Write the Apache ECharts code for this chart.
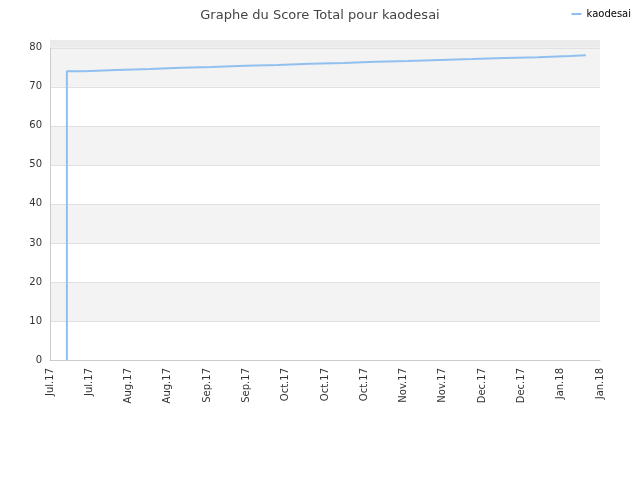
<!DOCTYPE html><html><head><meta charset="utf-8"><script src="https://cdn.jsdelivr.net/npm/echarts@6/dist/echarts.min.js"></script></head><body style="margin:0"><div id="c" style="width:640px;height:480px"></div><script>
const xLabels=['Jul.17','Jul.17','Aug.17','Aug.17','Sep.17','Sep.17','Oct.17','Oct.17','Oct.17','Nov.17','Nov.17','Dec.17','Dec.17','Jan.18','Jan.18'];
const stepX=[0.43,0.43,0.87,1.68,2.55,3.33,4.12,4.96,5.80,6.62,7.46,8.30,9.11,9.93,10.74,11.58,12.42,13.23,13.64];
const stepY=[0,74,74.3,74.6,74.9,75.1,75.4,75.6,75.9,76.1,76.4,76.6,76.9,77.1,77.4,77.6,77.9,78.1,78.1];
const c=echarts.init(document.getElementById('c'));
c.setOption({
title:{text:'Graphe du Score Total pour kaodesai',left:'center',top:4,textStyle:{fontSize:13,fontWeight:'normal',color:'#444',fontFamily:'DejaVu Sans'}},
legend:{right:4,top:4,itemWidth:10,itemHeight:2,icon:'rect',textStyle:{fontSize:10,color:'#000',fontFamily:'DejaVu Sans'}},
grid:{left:50,right:40,top:40,bottom:120},
xAxis:{type:'value',min:0,max:14,interval:1,axisLine:{lineStyle:{color:'#ccc'}},axisTick:{show:false},splitLine:{show:false},
axisLabel:{rotate:90,color:'#333',fontSize:10,fontFamily:'DejaVu Sans',formatter:v=>xLabels[Math.round(v)]}},
yAxis:{type:'value',min:0,max:82,interval:10,axisLine:{show:true,lineStyle:{color:'#ccc'}},axisTick:{show:false},
axisLabel:{color:'#333',fontSize:10,fontFamily:'DejaVu Sans'},splitLine:{lineStyle:{color:'#e0e0e0'}},splitArea:{show:true,areaStyle:{color:['#ffffff','#f3f3f3']}}},
series:[{name:'kaodesai',type:'line',step:'end',symbol:'none',color:'#90c0f0',lineStyle:{width:2},data:stepX.map((x,i)=>[x,stepY[i]]),
markArea:{silent:true,itemStyle:{color:'#ebebeb'},data:[[{yAxis:80},{yAxis:82}]]}}]
});
</script></body></html>
